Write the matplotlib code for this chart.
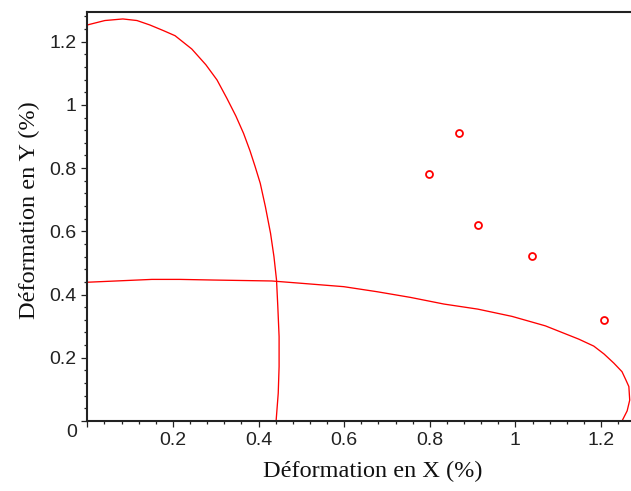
import matplotlib
matplotlib.use("Agg")
import matplotlib.pyplot as plt
from matplotlib.ticker import MultipleLocator, FuncFormatter

# ---- data ----
curve1_x = [0.0, 0.041, 0.083, 0.116, 0.146, 0.178, 0.205, 0.244, 0.277, 0.303,
            0.326, 0.347, 0.365, 0.380, 0.392, 0.404, 0.416, 0.428, 0.436, 0.442,
            0.445, 0.448, 0.448, 0.446, 0.441]
curve1_y = [1.253, 1.267, 1.272, 1.267, 1.253, 1.235, 1.219, 1.177, 1.127, 1.079,
            1.021, 0.965, 0.910, 0.855, 0.805, 0.752, 0.678, 0.594, 0.520, 0.446,
            0.362, 0.267, 0.172, 0.088, 0.0]

curve2_x = [0.0, 0.151, 0.216, 0.294, 0.431, 0.497, 0.599, 0.677, 0.755, 0.833,
            0.912, 0.992, 1.070, 1.148, 1.183, 1.207, 1.230, 1.249, 1.258, 1.265,
            1.267, 1.261, 1.249]
curve2_y = [0.439, 0.448, 0.448, 0.446, 0.443, 0.436, 0.425, 0.409, 0.391, 0.370,
            0.354, 0.331, 0.301, 0.259, 0.237, 0.212, 0.183, 0.156, 0.130, 0.109,
            0.066, 0.032, 0.0]

points_x = [0.868, 0.799, 0.912, 1.038, 1.206]
points_y = [0.912, 0.783, 0.620, 0.522, 0.319]

x_label = "Déformation en X (%)"
y_label = "Déformation en Y (%)"

# ---- figure ----
fig = plt.figure(figsize=(6.31, 4.91), dpi=100)
ax = fig.add_axes([87.3 / 631, 1 - 421 / 491, 1 - 87.3 / 631, (421 - 12) / 491])

red = "#ff0000"
ax.plot(curve1_x, curve1_y, color=red, lw=0.95, clip_on=False)
ax.plot(curve2_x, curve2_y, color=red, lw=0.95, clip_on=False)
ax.plot(points_x, points_y, linestyle="none", marker="o", markersize=5,
        markerfacecolor="none", markeredgecolor=red, markeredgewidth=1.3)

ax.set_xlim(0, 1.27)
ax.set_ylim(0, 1.294)

spine_col = "#222222"
for s in ["left", "bottom", "top"]:
    ax.spines[s].set_color(spine_col)
    ax.spines[s].set_linewidth(1.5)
ax.spines["right"].set_visible(False)

ax.xaxis.set_major_locator(MultipleLocator(0.2))
ax.xaxis.set_minor_locator(MultipleLocator(0.04))
ax.yaxis.set_major_locator(MultipleLocator(0.2))
ax.yaxis.set_minor_locator(MultipleLocator(0.04))

fmt = FuncFormatter(lambda v, p: "" if abs(v) < 1e-9 else ("%g" % round(v, 2)))
ax.xaxis.set_major_formatter(fmt)
ax.yaxis.set_major_formatter(fmt)

ax.tick_params(which="major", direction="out", length=4.5, width=0.9,
               color=spine_col, labelsize=14, pad=3.5, labelcolor="#222222")
ax.tick_params(which="minor", direction="out", length=2.2, width=0.9,
               color=spine_col)
ax.tick_params(top=False, right=False, which="both")
for lab in ax.get_xticklabels() + ax.get_yticklabels():
    lab.set_family("Liberation Sans")

# single origin label
ax.annotate("0", xy=(0, 0), xycoords="data", xytext=(-7.5, -2),
            textcoords="offset points", ha="right", va="top",
            fontsize=14, family="Liberation Sans", color="#222222")

ax.set_xlabel(x_label, family="Liberation Serif", fontsize=17.5, color="#111111")
ax.set_ylabel(y_label, family="Liberation Serif", fontsize=17.5, color="#111111")
ax.xaxis.set_label_coords(0.525, -0.098)
ax.yaxis.set_label_coords(-0.087, 0.516)

fig.savefig("out.png", dpi=100)
